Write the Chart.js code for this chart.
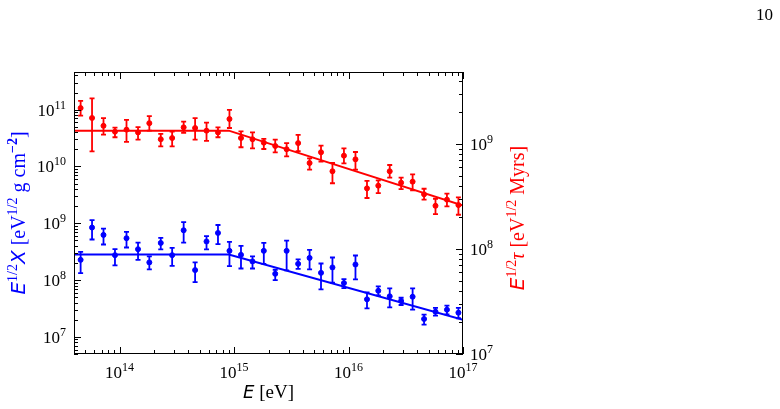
<!DOCTYPE html>
<html>
<head>
<meta charset="utf-8">
<script src="https://cdn.jsdelivr.net/npm/chart.js@4"></script>
<style>
body { margin: 0; background: #fff; }
#wrap { width: 780px; height: 409px; position: relative; }
</style>
</head>
<body>
<div id="wrap"><canvas id="grafico"></canvas></div>
<script>
// energias dos bins (eV)
const energias = [4.57e13, 5.75e13, 7.24e13, 9.12e13, 1.15e14, 1.45e14, 1.82e14, 2.29e14, 2.88e14, 3.63e14,
    4.57e14, 5.75e14, 7.24e14, 9.12e14, 1.15e15, 1.45e15, 1.82e15, 2.29e15, 2.88e15, 3.63e15,
    4.57e15, 5.75e15, 7.24e15, 9.12e15, 1.15e16, 1.45e16, 1.82e16, 2.29e16, 2.88e16, 3.63e16,
    4.57e16, 5.75e16, 7.24e16, 9.12e16];

// E^1/2 tau [eV^1/2 Myrs] (vermelho, eixo direito)
const tau = [2.20e9, 1.77e9, 1.49e9, 1.31e9, 1.37e9, 1.29e9, 1.58e9, 1.11e9, 1.14e9, 1.44e9,
    1.42e9, 1.34e9, 1.29e9, 1.73e9, 1.14e9, 1.11e9, 1.03e9, 9.57e8, 8.91e8, 1.02e9,
    6.59e8, 8.34e8, 5.50e8, 7.74e8, 7.14e8, 3.78e8, 4.01e8, 5.50e8, 4.28e8, 4.38e8,
    3.32e8, 2.58e8, 2.95e8, 2.62e8];
const tauMin = [1.86e9, 8.51e8, 1.23e9, 1.16e9, 1.05e9, 1.10e9, 1.34e9, 9.51e8, 9.51e8, 1.28e9,
    1.10e9, 1.07e9, 1.16e9, 1.42e9, 9.31e8, 9.10e8, 8.96e8, 8.34e8, 7.64e8, 8.57e8,
    5.69e8, 6.78e8, 4.23e8, 6.55e8, 5.69e8, 3.06e8, 3.41e8, 4.78e8, 3.72e8, 3.62e8,
    2.95e8, 2.15e8, 2.55e8, 2.12e8];
const tauMax = [2.58e9, 2.72e9, 1.76e9, 1.43e9, 1.70e9, 1.45e9, 1.84e9, 1.25e9, 1.31e9, 1.63e9,
    1.76e9, 1.60e9, 1.44e9, 2.11e9, 1.32e9, 1.29e9, 1.12e9, 1.10e9, 1.02e9, 1.22e9,
    7.31e8, 9.64e8, 6.59e8, 9.10e8, 8.39e8, 4.45e8, 4.51e8, 6.31e8, 4.78e8, 5.14e8,
    3.75e8, 3.01e8, 3.37e8, 3.10e8];

// E^1/2 X [eV^1/2 g cm^-2] (azul, eixo esquerdo)
const chi = [2.27e8, 8.41e8, 6.24e8, 2.75e8, 5.46e8, 3.50e8, 2.05e8, 4.51e8, 2.75e8, 7.53e8,
    1.50e8, 4.78e8, 6.76e8, 3.27e8, 2.78e8, 2.13e8, 3.27e8, 1.29e8, 3.27e8, 1.93e8,
    2.46e8, 1.34e8, 1.67e8, 8.86e7, 1.88e8, 4.59e7, 6.49e7, 5.18e7, 4.29e7, 5.09e7,
    2.07e7, 2.78e7, 3.01e7, 2.67e7];
const chiMin = [1.33e8, 5.18e8, 4.23e8, 1.81e8, 3.75e8, 2.27e8, 1.54e8, 3.46e8, 1.78e8, 4.58e8,
    9.2e7, 3.46e8, 4.28e8, 1.76e8, 1.60e8, 1.60e8, 1.93e8, 1.0e8, 1.48e8, 1.58e8,
    1.54e8, 6.87e7, 8.97e7, 7.24e7, 1.03e8, 3.19e7, 5.40e7, 3.32e7, 3.64e7, 3.01e7,
    1.64e7, 2.37e7, 2.50e7, 2.13e7];
const chiMax = [3.13e8, 1.14e9, 8.07e8, 3.50e8, 7.03e8, 4.58e8, 2.61e8, 5.52e8, 3.69e8, 1.05e9,
    2.05e8, 5.92e8, 9.33e8, 4.70e8, 4.00e8, 2.61e8, 4.51e8, 1.52e8, 4.97e8, 2.31e8,
    3.40e8, 1.96e8, 2.50e8, 1.04e8, 2.71e8, 6.08e7, 7.74e7, 7.15e7, 4.89e7, 7.15e7,
    2.46e7, 3.23e7, 3.54e7, 3.23e7];

// ajustes (quebra em ~9e14 eV)
const ajusteE = [4e13, 9e14, 1e17];
const ajusteTau = [1.34e9, 1.34e9, 2.6e8];
const ajusteChi = [2.82e8, 2.82e8, 2.0e7];

// expoentes dos rotulos
const xDecadas = [14, 15, 16, 17];
const yDecadas = [7, 8, 9, 10, 11];
const y2Decadas = [7, 8, 9];

const vermelho = '#ff0000';
const azul = '#0000ff';
const serif = '"Liberation Serif", "DejaVu Serif", serif';
const sans = '"DejaVu Sans", sans-serif';

function pontos(xs, ys) {
    return xs.map((x, i) => ({ x: x, y: ys[i] }));
}

// escreve segmentos de texto (com sobrescritos) centralizados em x=0
function textoRico(c, segs) {
    let total = 0;
    segs.forEach(s => { c.font = s.font; s.w = c.measureText(s.t).width; total += s.w; });
    let x = -total / 2;
    segs.forEach(s => {
        c.font = s.font;
        c.fillText(s.t, x, s.dy || 0);
        x += s.w;
    });
}

function potencia(c, exp, x, y, alinh) {
    c.font = '17px ' + serif;
    const wb = c.measureText('10').width;
    c.font = '12px ' + serif;
    const we = c.measureText(String(exp)).width;
    let x0 = x;
    if (alinh === 'center') x0 = x - (wb + we) / 2;
    if (alinh === 'right') x0 = x - (wb + we);
    c.fillStyle = '#000';
    c.textAlign = 'left';
    c.textBaseline = 'alphabetic';
    c.font = '17px ' + serif;
    c.fillText('10', x0, y);
    c.font = '12px ' + serif;
    c.fillText(String(exp), x0 + wb, y - 7);
}

const barrasErro = {
    id: 'barrasErro',
    beforeDatasetsDraw(chart) {
        const c = chart.ctx;
        const a = chart.chartArea;
        const sx = chart.scales.x;
        c.save();
        c.beginPath();
        c.rect(a.left, a.top, a.right - a.left, a.bottom - a.top);
        c.clip();
        const series = [
            { esc: chart.scales.y, lo: chiMin, hi: chiMax, cor: azul },
            { esc: chart.scales.y2, lo: tauMin, hi: tauMax, cor: vermelho }
        ];
        series.forEach(s => {
            c.strokeStyle = s.cor;
            c.lineWidth = 1.8;
            energias.forEach((e, i) => {
                const px = sx.getPixelForValue(e);
                const p1 = s.esc.getPixelForValue(s.lo[i]);
                const p2 = s.esc.getPixelForValue(s.hi[i]);
                c.beginPath();
                c.moveTo(px, p1); c.lineTo(px, p2);
                c.moveTo(px - 2.5, p1); c.lineTo(px + 2.5, p1);
                c.moveTo(px - 2.5, p2); c.lineTo(px + 2.5, p2);
                c.stroke();
            });
        });
        c.restore();
    }
};

const eixos = {
    id: 'eixos',
    afterDraw(chart) {
        const c = chart.ctx;
        const a = chart.chartArea;
        const sx = chart.scales.x, sy = chart.scales.y, sy2 = chart.scales.y2;
        c.save();
        c.strokeStyle = '#000';
        c.lineWidth = 1;
        c.strokeRect(a.left + 0.5, a.top + 0.5, a.right - a.left - 1, a.bottom - a.top - 1);

        // ticks x (baixo e topo)
        c.beginPath();
        for (let d = 13; d <= 17; d++) {
            for (let m = 1; m <= 9; m++) {
                const v = m * Math.pow(10, d);
                if (v < sx.min || v > sx.max * 1.0001) continue;
                const px = Math.round(sx.getPixelForValue(v)) + 0.5;
                const len = m === 1 ? 7 : 4;
                c.moveTo(px, a.bottom); c.lineTo(px, a.bottom - len);
                c.moveTo(px, a.top); c.lineTo(px, a.top + len);
            }
        }
        // ticks y esquerdo
        for (let d = 6; d <= 11; d++) {
            for (let m = 1; m <= 9; m++) {
                const v = m * Math.pow(10, d);
                if (v < sy.min || v > sy.max) continue;
                const py = Math.round(sy.getPixelForValue(v)) + 0.5;
                const len = m === 1 ? 7 : 4;
                c.moveTo(a.left, py); c.lineTo(a.left + len, py);
            }
        }
        // ticks y direito
        for (let d = 7; d <= 9; d++) {
            for (let m = 1; m <= 9; m++) {
                const v = m * Math.pow(10, d);
                if (v < sy2.min || v > sy2.max) continue;
                const py = Math.round(sy2.getPixelForValue(v)) + 0.5;
                const len = m === 1 ? 7 : 4;
                c.moveTo(a.right, py); c.lineTo(a.right - len, py);
            }
        }
        c.stroke();

        // rotulos
        xDecadas.forEach(d => potencia(c, d, sx.getPixelForValue(Math.pow(10, d)), a.bottom + 24, 'center'));
        yDecadas.forEach(d => potencia(c, d, a.left - 8, sy.getPixelForValue(Math.pow(10, d)) + 6, 'right'));
        y2Decadas.forEach(d => potencia(c, d, a.right + 7, sy2.getPixelForValue(Math.pow(10, d)) + 6, 'left'));

        // titulo x
        c.fillStyle = '#000';
        c.textAlign = 'left';
        c.textBaseline = 'alphabetic';
        c.save();
        c.translate((a.left + a.right) / 2, 398);
        textoRico(c, [
            { t: 'E', font: 'italic 18px ' + sans },
            { t: ' [eV]', font: '19px ' + serif }
        ]);
        c.restore();

        // titulo y esquerdo
        c.fillStyle = azul;
        c.save();
        c.translate(25, 213);
        c.rotate(-Math.PI / 2);
        textoRico(c, [
            { t: 'E', font: 'italic 20px ' + sans },
            { t: '1/2', font: '14px ' + serif, dy: -8 },
            { t: 'X', font: 'italic 20px ' + sans },
            { t: ' [eV', font: '20px ' + serif },
            { t: '1/2', font: '14px ' + serif, dy: -8 },
            { t: ' g cm', font: '20px ' + serif },
            { t: '\u22122', font: 'bold 14px ' + serif, dy: -8 },
            { t: ']', font: '20px ' + serif }
        ]);
        c.restore();

        // titulo y direito
        c.fillStyle = vermelho;
        c.save();
        c.translate(524, 218);
        c.rotate(-Math.PI / 2);
        textoRico(c, [
            { t: 'E', font: 'italic 20px ' + sans },
            { t: '1/2', font: '14px ' + serif, dy: -8 },
            { t: '\u03c4', font: 'italic 20px ' + serif },
            { t: ' [eV', font: '20px ' + serif },
            { t: '1/2', font: '14px ' + serif, dy: -8 },
            { t: ' Myrs]', font: '20px ' + serif }
        ]);
        c.restore();

        // numero da pagina
        c.fillStyle = '#000';
        c.font = '17px ' + serif;
        c.textAlign = 'right';
        c.fillText('10', 773, 20);
        c.restore();
    }
};

const ctx = document.getElementById('grafico').getContext('2d');
const grafico = new Chart(ctx, {
    type: 'scatter',
    data: {
        datasets: [
            {
                label: 'chi',
                data: pontos(energias, chi),
                yAxisID: 'y',
                backgroundColor: azul,
                borderColor: azul,
                pointRadius: 2.5,
                pointHoverRadius: 2.5
            },
            {
                label: 'tau',
                data: pontos(energias, tau),
                yAxisID: 'y2',
                backgroundColor: vermelho,
                borderColor: vermelho,
                pointRadius: 2.5,
                pointHoverRadius: 2.5
            },
            {
                label: 'ajuste chi',
                data: pontos(ajusteE, ajusteChi),
                yAxisID: 'y',
                showLine: true,
                pointRadius: 0,
                borderColor: azul,
                borderWidth: 2
            },
            {
                label: 'ajuste tau',
                data: pontos(ajusteE, ajusteTau),
                yAxisID: 'y2',
                showLine: true,
                pointRadius: 0,
                borderColor: vermelho,
                borderWidth: 2
            }
        ]
    },
    options: {
        responsive: true,
        maintainAspectRatio: false,
        animation: false,
        layout: { padding: { left: 74, right: 317, top: 72, bottom: 55 } },
        plugins: { legend: { display: false }, tooltip: { enabled: false } },
        scales: {
            x: { type: 'logarithmic', min: 4e13, max: 1e17, display: false },
            y: { type: 'logarithmic', min: 5e6, max: 4.6e11, display: false },
            y2: { type: 'logarithmic', position: 'right', min: 1e7, max: 4.85e9, display: false }
        }
    },
    plugins: [barrasErro, eixos]
});
</script>
</body>
</html>
